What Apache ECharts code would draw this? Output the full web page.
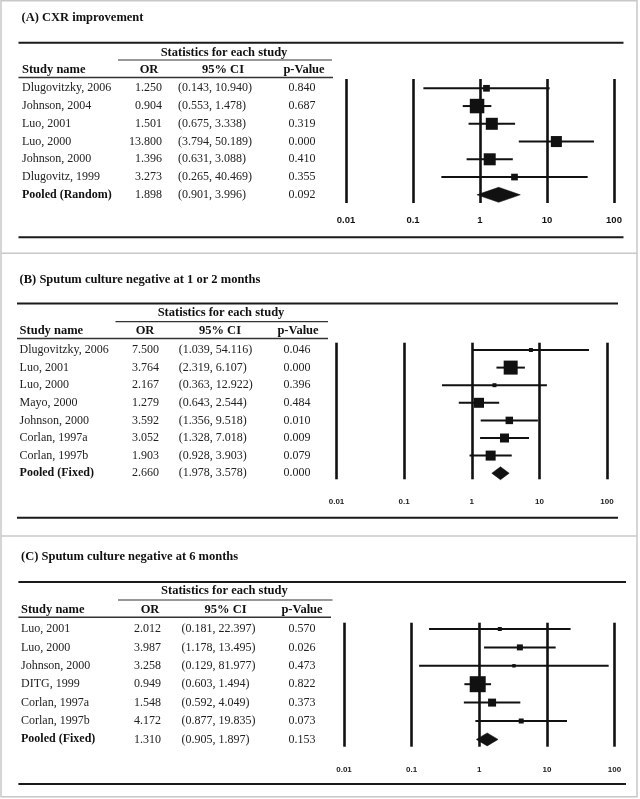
<!DOCTYPE html>
<html><head><meta charset="utf-8">
<script src="https://cdn.jsdelivr.net/npm/echarts@6/dist/echarts.min.js"></script>
<style>html,body{margin:0;padding:0;background:#fff}#c{width:640px;height:799px}</style>
</head><body><div id="c"></div>
<script>
// ---------- data ----------
const titles = ['(A) CXR improvement', '(B) Sputum culture negative at 1 or 2 months', '(C) Sputum culture negative at 6 months'];
const groupHeader = 'Statistics for each study';
const headers = ['Study name', 'OR', '95% CI', 'p-Value'];
const tickLabels = ['0.01', '0.1', '1', '10', '100'];

const namesA = ['Dlugovitzky, 2006', 'Johnson, 2004', 'Luo, 2001', 'Luo, 2000', 'Johnson, 2000', 'Dlugovitz, 1999', 'Pooled (Random)'];
const orA = [1.250, 0.904, 1.501, 13.800, 1.396, 3.273, 1.898];
const loA = [0.143, 0.553, 0.675, 3.794, 0.631, 0.265, 0.901];
const hiA = [10.940, 1.478, 3.338, 50.189, 3.088, 40.469, 3.996];
const pA = [0.840, 0.687, 0.319, 0.000, 0.410, 0.355, 0.092];
const weightsA = [6.3, 29.6, 20.3, 17.1, 20.3, 6.3, null];

const namesB = ['Dlugovitzky, 2006', 'Luo, 2001', 'Luo, 2000', 'Mayo, 2000', 'Johnson, 2000', 'Corlan, 1997a', 'Corlan, 1997b', 'Pooled (Fixed)'];
const orB = [7.500, 3.764, 2.167, 1.279, 3.592, 3.052, 1.903, 2.660];
const loB = [1.039, 2.319, 0.363, 0.643, 1.356, 1.328, 0.928, 1.978];
const hiB = [54.116, 6.107, 12.922, 2.544, 9.518, 7.018, 3.903, 3.578];
const pB = [0.046, 0.000, 0.396, 0.484, 0.010, 0.009, 0.079, 0.000];
const weightsB = [2.8, 34.7, 2.8, 17.7, 9.9, 14.3, 17.7, null];

const namesC = ['Luo, 2001', 'Luo, 2000', 'Johnson, 2000', 'DITG, 1999', 'Corlan, 1997a', 'Corlan, 1997b', 'Pooled (Fixed)'];
const orC = [2.012, 3.987, 3.258, 0.949, 1.548, 4.172, 1.310];
const loC = [0.181, 1.178, 0.129, 0.603, 0.592, 0.877, 0.905];
const hiC = [22.397, 13.495, 81.977, 1.494, 4.049, 19.835, 1.897];
const pC = [0.570, 0.026, 0.473, 0.822, 0.373, 0.073, 0.153];
const weightsC = [3.9, 8.8, 2.9, 62.6, 15.6, 6.1, null];

// ---------- layout (pixels) ----------
const layoutA = {titleX:21.5, titleY:17.3, ruleL:18.5, ruleR:623.5, ruleTop:42.7, ruleBot:237.3,
  statX:224, statY:52.8, statUL:[118,332,60], headY:70, headUL:[18.5,333,77.5],
  nameX:22, orX:162, ciX:178, pX:302, orHX:149, ciHX:223, pHX:304,
  gridL:346, gridR:614, rowY0:88.3, rowDy:17.75, padT:9.3, padB:8.2,
  labelSize:9.5, labelMargin:12, labelColor:'#111', maxSide:14.5, diamondH:7.5};
const layoutB = {titleX:19.6, titleY:279.3, ruleL:17, ruleR:618, ruleTop:303.5, ruleBot:517.7,
  statX:221, statY:313, statUL:[115.5,328,321.7], headY:331, headUL:[17,328,338.5],
  nameX:19.6, orX:159, ciX:178.7, pX:297, orHX:145, ciHX:220, pHX:298,
  gridL:336.5, gridR:607, rowY0:350, rowDy:17.6, padT:7.3, padB:6.1,
  labelSize:8, labelMargin:18.4, labelColor:'#222', maxSide:14, diamondH:6.5};
const layoutC = {titleX:21, titleY:556.7, ruleL:18.4, ruleR:626, ruleTop:582, ruleBot:784,
  statX:224.4, statY:591, statUL:[118,332.5,600], headY:609.3, headUL:[18.4,331,617.3],
  nameX:21, orX:161, ciX:181.6, pX:302, orHX:150, ciHX:225.6, pHX:302,
  gridL:344, gridR:614.5, rowY0:629, rowDy:18.4, padT:6.3, padB:7.3,
  labelSize:8, labelMargin:18.6, labelColor:'#222', maxSide:16, diamondH:6.5};

const SERIF = '"Liberation Serif","Times New Roman",serif';
const SANS = '"Liberation Sans",Arial,sans-serif';
const INK = '#111';
const TXT = '#222';

const panels = [
  {title:titles[0], names:namesA, or:orA, lo:loA, hi:hiA, p:pA, w:weightsA, L:layoutA},
  {title:titles[1], names:namesB, or:orB, lo:loB, hi:hiB, p:pB, w:weightsB, L:layoutB},
  {title:titles[2], names:namesC, or:orC, lo:loC, hi:hiC, p:pC, w:weightsC, L:layoutC}
];

function txt(x, y, text, opts) {
  opts = opts || {};
  return {type:'text', x:x, y:y, silent:true, z:10, style:{
    text:text, fill:opts.fill || TXT,
    font:(opts.bold ? 'bold ' : '') + (opts.size || 12) + 'px ' + (opts.family || SERIF),
    align:opts.align || 'left', textAlign:opts.align || 'left',
    verticalAlign:'middle', textVerticalAlign:'middle'}};
}
function hline(x1, x2, y, w, color) {
  return {type:'line', silent:true, z:10, shape:{x1:x1, y1:y, x2:x2, y2:y}, style:{stroke:color || INK, lineWidth:w}};
}

const grids = [], xAxes = [], yAxes = [], series = [], graphics = [];

// frame
graphics.push({type:'rect', silent:true, shape:{x:1, y:0.75, width:636, height:796}, style:{fill:'none', stroke:'#c8c8c8', lineWidth:1.5}});
graphics.push(hline(1, 637, 253.3, 1.5, '#c8c8c8'));
graphics.push(hline(1, 637, 536, 1.5, '#c8c8c8'));

panels.forEach(function (P, k) {
  const L = P.L;
  const n = P.names.length;
  const top = L.rowY0 - L.padT;
  const height = (n - 1) * L.rowDy + L.padT + L.padB;
  grids.push({left:L.gridL, top:top, width:L.gridR - L.gridL, height:height, containLabel:false, outerBoundsMode:'none'});
  xAxes.push({type:'log', logBase:10, min:0.01, max:100, gridIndex:k,
    axisLine:{show:false}, axisTick:{show:false},
    splitLine:{show:true, showMinLine:true, showMaxLine:true, lineStyle:{color:INK, width:2.6}},
    axisLabel:{show:true, margin:L.labelMargin, fontFamily:SANS, fontWeight:'bold', fontSize:L.labelSize, color:L.labelColor,
      formatter:function (v) { return tickLabels[Math.round(Math.log10(v)) + 2]; }}});
  yAxes.push({type:'value', gridIndex:k, show:false, inverse:true,
    min:-L.padT / L.rowDy, max:(n - 1) + L.padB / L.rowDy});

  // static text and rules
  graphics.push(txt(L.titleX, L.titleY, P.title, {bold:true, size:12.5, fill:INK}));
  graphics.push(hline(L.ruleL, L.ruleR, L.ruleTop, 2, '#1a1a1a'));
  graphics.push(hline(L.ruleL, L.ruleR, L.ruleBot, 2, '#1a1a1a'));
  graphics.push(txt(L.statX, L.statY, groupHeader, {bold:true, size:12.5, fill:INK, align:'center'}));
  graphics.push(hline(L.statUL[0], L.statUL[1], L.statUL[2], 1.2, '#333'));
  graphics.push(txt(L.nameX, L.headY, headers[0], {bold:true, size:12.5, fill:INK}));
  graphics.push(txt(L.orHX, L.headY, headers[1], {bold:true, size:12.5, fill:INK, align:'center'}));
  graphics.push(txt(L.ciHX, L.headY, headers[2], {bold:true, size:12.5, fill:INK, align:'center'}));
  graphics.push(txt(L.pHX, L.headY, headers[3], {bold:true, size:12.5, fill:INK, align:'center'}));
  graphics.push(hline(L.headUL[0], L.headUL[1], L.headUL[2], 1.4, '#333'));

  const wMax = Math.max.apply(null, P.w.filter(function (v) { return v != null; }));
  const data = P.names.map(function (nm, i) { return [P.or[i], P.lo[i], P.hi[i], i]; });

  series.push({type:'custom', xAxisIndex:k, yAxisIndex:k, clip:false, z:5,
    encode:{x:[0, 1, 2], y:3}, data:data,
    renderItem:function (params, api) {
      const i = params.dataIndex;
      const row = api.value(3);
      const c = api.coord([api.value(0), row]);
      const cl = api.coord([api.value(1), row]);
      const ch = api.coord([api.value(2), row]);
      const y = c[1];
      const pooled = P.w[i] == null;
      const children = [];
      if (pooled) {
        const h = L.diamondH;
        children.push({type:'polygon', shape:{points:[[cl[0], y], [c[0], y - h], [ch[0], y], [c[0], y + h]]},
          style:{fill:INK, stroke:INK, lineWidth:0.5}});
      } else {
        const s = L.maxSide * Math.sqrt(P.w[i] / wMax);
        children.push({type:'line', shape:{x1:cl[0], y1:y, x2:ch[0], y2:y}, style:{stroke:INK, lineWidth:2}});
        children.push({type:'rect', shape:{x:c[0] - s / 2, y:y - s / 2, width:s, height:s}, style:{fill:INK}});
      }
      const rowFont = function (b) { return (b ? 'bold ' : '') + '12px ' + SERIF; };
      const t = function (x, text, align, bold) {
        return {type:'text', x:x, y:y, style:{text:text, fill:bold ? INK : TXT, font:rowFont(bold),
          align:align, textAlign:align, verticalAlign:'middle', textVerticalAlign:'middle'}};
      };
      children.push(t(L.nameX, P.names[i], 'left', pooled));
      children.push(t(L.orX, P.or[i].toFixed(3), 'right', false));
      children.push(t(L.ciX, '(' + P.lo[i].toFixed(3) + ', ' + P.hi[i].toFixed(3) + ')', 'left', false));
      children.push(t(L.pX, P.p[i].toFixed(3), 'center', false));
      return {type:'group', children:children};
    }});
});

const chart = echarts.init(document.getElementById('c'), null, {renderer:'canvas'});
chart.setOption({
  backgroundColor:'#fff',
  animation:false,
  grid:grids, xAxis:xAxes, yAxis:yAxes, series:series,
  graphic:{elements:graphics}
});
</script></body></html>
